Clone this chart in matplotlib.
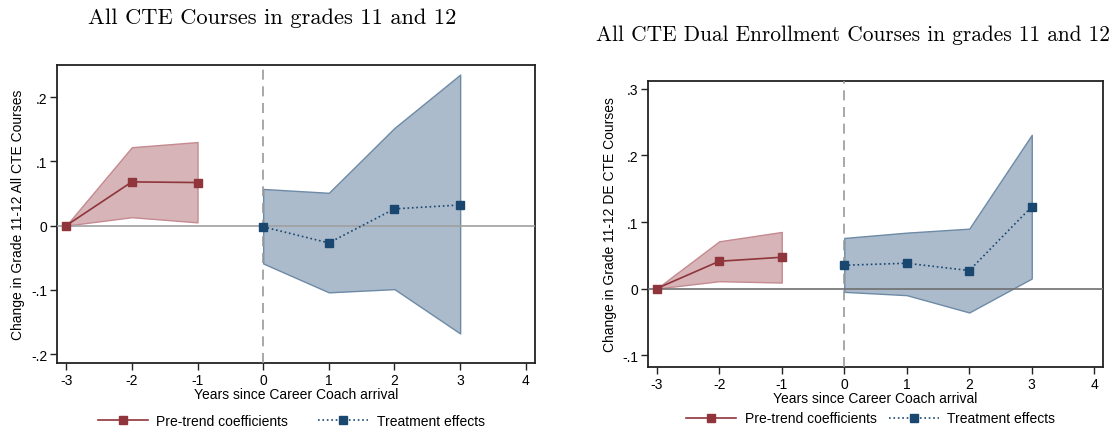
import matplotlib
matplotlib.use("Agg")
import matplotlib.pyplot as plt
from matplotlib.lines import Line2D

# event-time axis
pre_years = [-3, -2, -1]
post_years = [0, 1, 2, 3]

# left panel: all CTE courses
pre_all = [0.0, 0.068, 0.067]
pre_all_lo = [0.0, 0.013, 0.005]
pre_all_hi = [0.0, 0.122, 0.130]
post_all = [-0.002, -0.027, 0.026, 0.032]
post_all_lo = [-0.059, -0.104, -0.099, -0.168]
post_all_hi = [0.057, 0.051, 0.152, 0.235]

# right panel: CTE dual enrollment courses
pre_de = [0.0, 0.041, 0.047]
pre_de_lo = [0.0, 0.011, 0.009]
pre_de_hi = [0.0, 0.071, 0.085]
post_de = [0.035, 0.038, 0.027, 0.123]
post_de_lo = [-0.005, -0.010, -0.036, 0.015]
post_de_hi = [0.076, 0.084, 0.090, 0.231]

xticks = [-3, -2, -1, 0, 1, 2, 3, 4]
yticks_all = [-0.2, -0.1, 0, 0.1, 0.2]
ylabels_all = ["-.2", "-.1", "0", ".1", ".2"]
yticks_de = [-0.1, 0, 0.1, 0.2, 0.3]
ylabels_de = ["-.1", "0", ".1", ".2", ".3"]

red = "#90353B"
blue = "#1A476F"

plt.rcParams['font.family'] = ['Liberation Sans', 'DejaVu Sans']

W, H = 1114, 431
fig = plt.figure(figsize=(W / 100, H / 100), dpi=100)


def panel(rect, pre, pre_lo, pre_hi, post, post_lo, post_hi, yt, yl, ylim,
          ylabel, title, title_xy, title_size, leg_y, leg_sp, zero_col):
    l, t, r, b = rect
    ax = fig.add_axes([l / W, 1 - b / H, (r - l) / W, (b - t) / H])
    ax.fill_between(pre_years, pre_lo, pre_hi, facecolor="#D6B4B7",
                    edgecolor="#C48A90", linewidth=1, zorder=2)
    ax.fill_between(post_years, post_lo, post_hi, facecolor="#ABBBCB",
                    edgecolor="#6D8AA6", linewidth=1, zorder=2)
    ax.axhline(0, color=zero_col, linewidth=1.2, zorder=3)
    ax.axvline(0, color="#999999", linewidth=1.2, linestyle=(0, (6, 4)), zorder=3)
    ax.plot(pre_years, pre, color=red, linewidth=1.2, marker="s",
            markersize=6.2, zorder=4)
    ax.plot(post_years, post, color=blue, linewidth=1.2, linestyle=":",
            marker="s", markersize=6.2, zorder=4)
    ax.set_xlim(-3.14, 4.14)
    ax.set_ylim(*ylim)
    ax.set_xticks(xticks)
    ax.set_xticklabels([str(x) for x in xticks])
    ax.set_yticks(yt)
    ax.set_yticklabels(yl)
    ax.tick_params(direction="out", length=5, width=1, labelsize=10, pad=2,
                   color="#222222")
    for s in ax.spines.values():
        s.set_linewidth(1.3)
        s.set_color("#222222")
    ax.set_xlabel("Years since Career Coach arrival", fontsize=10, labelpad=0)
    ax.set_ylabel(ylabel, fontsize=10, labelpad=4)
    fig.text(title_xy[0] / W, 1 - title_xy[1] / H, title, family="cmr10",
             fontsize=title_size, ha="center", va="center")
    handles = [
        Line2D([], [], color=red, linewidth=1.2, marker="s", markersize=6.2),
        Line2D([], [], color=blue, linewidth=1.2, linestyle=":", marker="s",
               markersize=6.2),
    ]
    ax.legend(handles, ["Pre-trend coefficients", "Treatment effects"],
              loc="center", bbox_to_anchor=(0.49, leg_y), ncol=2,
              frameon=False, fontsize=10, handlelength=3.6, columnspacing=leg_sp,
              handletextpad=0.6)
    return ax


panel((57, 66, 535, 364), pre_all, pre_all_lo, pre_all_hi, post_all,
      post_all_lo, post_all_hi, yticks_all, ylabels_all, (-0.214, 0.25),
      "Change in Grade 11-12 All CTE Courses",
      "All CTE Courses in grades 11 and 12", (272, 18), 16.2, -0.195, 2.2,
      "#A0A0A0")

panel((648, 82, 1103, 368), pre_de, pre_de_lo, pre_de_hi, post_de,
      post_de_lo, post_de_hi, yticks_de, ylabels_de, (-0.118, 0.312),
      "Change in Grade 11-12 DE CTE Courses",
      "All CTE Dual Enrollment Courses in grades 11 and 12", (853, 35), 15.4,
      -0.18, 0.9, "#707070")

fig.savefig("out.png", dpi=100, facecolor="white")
